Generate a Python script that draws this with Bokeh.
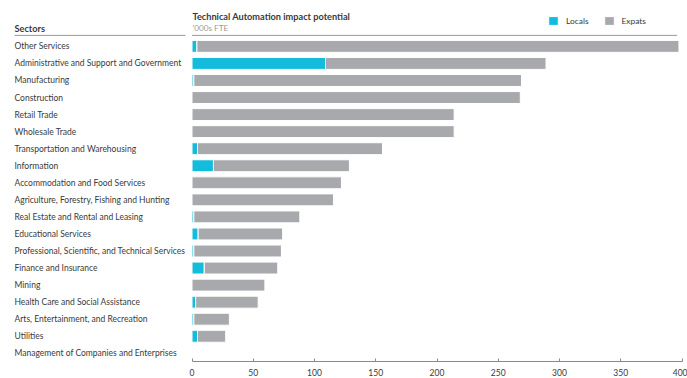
from bokeh.plotting import figure
from bokeh.models import ColumnDataSource, Range1d, FixedTicker, Legend, LegendItem, Label
from bokeh.core.properties import value
from bokeh.embed import file_html
from bokeh.resources import INLINE

sectors = [
    "Other Services",
    "Administrative and Support and Government",
    "Manufacturing",
    "Construction",
    "Retail Trade",
    "Wholesale Trade",
    "Transportation and Warehousing",
    "Information",
    "Accommodation and Food Services",
    "Agriculture, Forestry, Fishing and Hunting",
    "Real Estate and Rental and Leasing",
    "Educational Services",
    "Professional, Scientific, and Technical Services",
    "Finance and Insurance",
    "Mining",
    "Health Care and Social Assistance",
    "Arts, Entertainment, and Recreation",
    "Utilities",
    "Management of Companies and Enterprises",
]
locals_ = [4, 109, 1.5, 0, 0, 0, 4.5, 17.5, 0, 0, 1.5, 5, 1.5, 10, 0, 3, 1.5, 4.5, 0]
totals = [397.5, 289, 269, 268, 214, 214, 155.5, 128.5, 122, 115.5, 88, 74, 73, 70, 59.5, 54, 30.5, 27.5, 0.5]
expats = [t - l for t, l in zip(totals, locals_)]
x_ticks = [0, 50, 100, 150, 200, 250, 300, 350, 400]

FONT = "Lato"
TXT = "#3a3a3a"
BLUE = "#14bcdb"
GRAY = "#a7a9ac"

W, H = 687, 378
px_per_unit = 1.225
zero_px = 191.5
row_px = 17.1
first_row_px = 46.0
frame_h = 362

x0 = -zero_px / px_per_unit
x1 = (W - zero_px) / px_per_unit
y_top = -first_row_px / row_px
y_bot = (frame_h - first_row_px) / row_px
left_x = x0 + 14 / px_per_unit

rows = list(range(len(sectors)))
src = ColumnDataSource(dict(y=rows, sector=sectors, loc=locals_, tot=totals, exp=expats,
                            lx=[left_x] * len(rows)))

p = figure(width=W, height=H, output_backend="svg", toolbar_location=None,
           x_range=Range1d(x0, x1), y_range=Range1d(y_bot, y_top),
           min_border_left=0, min_border_right=0, min_border_top=0, min_border_bottom=0)
p.outline_line_color = None
p.xgrid.visible = False
p.ygrid.visible = False
p.yaxis.visible = False

r_loc = p.hbar(y="y", left=0, right="loc", height=0.7, source=src,
               fill_color=BLUE, line_color="white", line_width=1)
r_exp = p.hbar(y="y", left="loc", right="tot", height=0.7, source=src,
               fill_color=GRAY, line_color="white", line_width=1)

p.text(x="lx", y="y", text="sector", source=src, text_font=value(FONT),
       text_font_size="8.5px", text_color=TXT, text_align="left", text_baseline="middle")

ax = p.xaxis[0]
ax.ticker = FixedTicker(ticks=x_ticks)
ax.bounds = (0, 400)
ax.axis_line_color = "#8a8a8a"
ax.major_tick_line_color = "#8a8a8a"
ax.major_tick_in = 3
ax.major_tick_out = 0
ax.minor_tick_line_color = None
ax.major_label_text_font = FONT
ax.major_label_text_font_size = "8.5px"
ax.major_label_text_color = TXT
ax.major_label_standoff = 7

# header texts
hdr_y_title = y_top + 16 / row_px
hdr_y_sub = y_top + 28 / row_px
hdr_y_line = y_top + 35 / row_px
p.add_layout(Label(x=0, y=hdr_y_title, text="Technical Automation impact potential",
                   text_font=FONT, text_font_size="9.2px", text_font_style="bold",
                   text_color=TXT, text_baseline="middle", x_offset=0.5))
p.add_layout(Label(x=0, y=hdr_y_sub, text="'000s FTE", text_font=FONT,
                   text_font_size="8.2px", text_color="#9a9a9a", text_baseline="middle", x_offset=0.5))
p.add_layout(Label(x=left_x, y=hdr_y_sub, text="Sectors", text_font=FONT,
                   text_font_size="9.2px", text_font_style="bold", text_color=TXT,
                   text_baseline="middle"))
p.segment(x0=[left_x, 0], x1=[-6.5 / px_per_unit, 396],
          y0=[hdr_y_line, hdr_y_line], y1=[hdr_y_line, hdr_y_line],
          line_color="#9a9a9a", line_width=1)

legend = Legend(items=[LegendItem(label="Locals", renderers=[r_loc]),
                       LegendItem(label="Expats", renderers=[r_exp])],
                orientation="horizontal", location=(547, 335),
                glyph_width=12, glyph_height=11, label_height=11, label_width=0,
                label_standoff=7, spacing=14, padding=0, margin=0,
                border_line_alpha=0, background_fill_alpha=0,
                label_text_font=FONT, label_text_font_size="8.4px", label_text_color=TXT)
p.add_layout(legend)

open("out.html", "w").write(file_html(p, INLINE))
